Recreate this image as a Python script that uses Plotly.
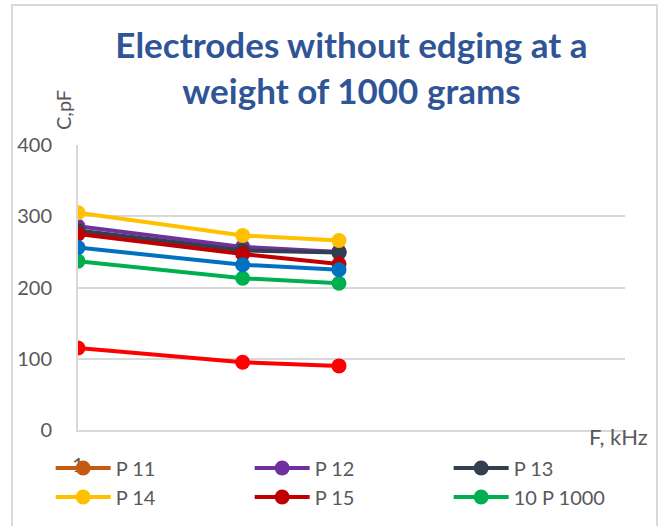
import plotly.graph_objects as go

# Frequency points (kHz) and measured capacitance (pF)
freq_khz = [1, 2, 3]

series_names = ["P 11", "P 12", "P 13", "P 14", "P 15", "10 P 1000", "P 16", "P 17"]
series_colors = ["#C55A11", "#7030A0", "#333F50", "#FFC000", "#C00000", "#00B050", "#0070C0", "#FF0000"]
in_legend = [True, True, True, True, True, True, False, False]

p11 = [279, 253, 250]
p12 = [286, 257, 250]
p13 = [280, 252, 249]
p14 = [305, 273, 266]
p15 = [275, 247, 233]
p10_1000 = [237, 213, 206]
p16 = [256, 232, 225]
p17 = [115, 95, 90]
values = [p11, p12, p13, p14, p15, p10_1000, p16, p17]

y_ticks = [0, 100, 200, 300, 400]
x_ticks = [1]

grey_text = "#595959"
grid = "#D9D9D9"
font_family = "Lato, Open Sans, sans-serif"

fig = go.Figure()
for name, color, ys, show in zip(series_names, series_colors, values, in_legend):
    fig.add_trace(go.Scatter(
        x=freq_khz, y=ys, name=name, mode="lines+markers",
        line=dict(color=color, width=4),
        marker=dict(color=color, size=15),
        showlegend=show,
    ))

fig.update_layout(
    width=668, height=526,
    margin=dict(l=78, r=43, t=145, b=96, autoexpand=False),
    paper_bgcolor="white", plot_bgcolor="white",
    font=dict(family=font_family, color=grey_text, size=20),
    title=dict(
        text="Electrodes without edging at a<br>weight of 1000 grams",
        font=dict(family=font_family, size=35, color="#2F5597", weight="bold"),
        x=0.5, xref="paper", xanchor="center",
        y=1 - 58 / 526, yref="container", yanchor="middle",
    ),
    xaxis=dict(
        type="log", range=[0, 1],
        tickvals=x_ticks, ticktext=[str(v) for v in x_ticks],
        showgrid=False, zeroline=False,
        showline=True, linecolor=grid, linewidth=2,
        ticks="", ticklabelstandoff=16,
        tickfont=dict(size=20, color=grey_text),
    ),
    yaxis=dict(
        range=[0, 400], tickvals=y_ticks,
        showgrid=True, gridcolor=grid, gridwidth=2,
        zeroline=False, showline=True, linecolor=grid, linewidth=2,
        ticks="", ticklabelstandoff=20,
        tickfont=dict(size=20, color=grey_text),
    ),
    legend=dict(
        orientation="h", x=-0.05, xanchor="left", y=-0.065, yanchor="top",
        entrywidth=129, entrywidthmode="pixels",
        font=dict(size=20, color=grey_text), itemwidth=55,
        bgcolor="rgba(0,0,0,0)",
    ),
    shapes=[dict(
        type="rect", xref="paper", yref="paper",
        x0=(12 - 78) / 547, x1=(657 - 78) / 547,
        y0=-0.5, y1=(430 - 5) / 285,
        line=dict(color=grid, width=2), layer="below",
    )],
    annotations=[
        dict(text="C,pF", textangle=-90, xref="paper", yref="paper",
             x=(63 - 78) / 547, y=(430 - 110) / 285, showarrow=False,
             xanchor="center", yanchor="middle",
             font=dict(size=20, color=grey_text)),
        dict(text="F, kHz", xref="paper", yref="paper",
             x=(650 - 78) / 547, xanchor="right", y=(430 - 436) / 285,
             yanchor="middle", showarrow=False,
             font=dict(size=22, color=grey_text)),
    ],
)

fig.write_html("out.html")
